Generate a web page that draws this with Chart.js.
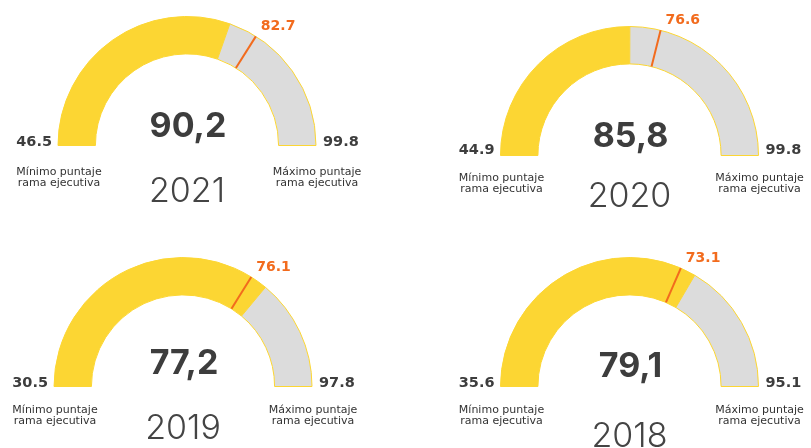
<!DOCTYPE html>
<html>
<head>
<meta charset="utf-8">
<script src="https://cdn.jsdelivr.net/npm/chart.js@4/dist/chart.umd.min.js"></script>
<style>
  html, body { margin: 0; padding: 0; background: #ffffff; }
  #wrap { position: relative; width: 811px; height: 448px; overflow: hidden; background: #fff; }
  #wrap canvas { position: absolute; }
</style>
</head>
<body>
<div id="wrap"></div>
<script>
// ---- data ----
const years = ['2021', '2020', '2019', '2018'];
const scores = [90.2, 85.8, 77.2, 79.1];          // big central number
const minScores = [46.5, 44.9, 30.5, 35.6];       // "Mínimo puntaje rama ejecutiva"
const maxScores = [99.8, 99.8, 97.8, 95.1];       // "Máximo puntaje rama ejecutiva"
const markerValues = [82.7, 76.6, 76.1, 73.1];    // orange marker
const fillValues = [78.9, 72.4, 79.0, 75.4];      // extent of the yellow fill as drawn
const minLabel = ['Mínimo puntaje', 'rama ejecutiva'];
const maxLabel = ['Máximo puntaje', 'rama ejecutiva'];

// ---- layout (panel placement, not data) ----
const panels = [
  { left: 0,   top: 0,   cx: 187,   cy: 146, numDy: -9,  yearDy: 56, descDy: 29, minDy: 0 },
  { left: 405, top: 0,   cx: 224.5, cy: 156, numDy: -9,  yearDy: 51, descDy: 25, minDy: -2 },
  { left: 0,   top: 224, cx: 183,   cy: 163, numDy: -13, yearDy: 52, descDy: 26, minDy: 0 },
  { left: 405, top: 224, cx: 224.5, cy: 163, numDy: -10, yearDy: 60, descDy: 26, minDy: 0 }
];
const W = 405, H = 224, R = 130;
const YELLOW = '#FCD633', GREY = '#DCDCDC', ORANGE = '#F26B1D', DARK = '#3D3D3D';
const FONT = 'Inter, "Open Sans", sans-serif';
const WIDE = '"DejaVu Sans", Verdana, sans-serif';

const gaugeText = {
  id: 'gaugeText',
  afterDatasetsDraw(chart, args, opts) {
    const i = opts.index;
    const arc = chart.getDatasetMeta(0).data[0];
    const x = arc.x, y = arc.y, ro = arc.outerRadius, ri = arc.innerRadius;
    const p = panels[i];
    const ctx = chart.ctx;
    ctx.save();
    // marker line
    const frac = (markerValues[i] - minScores[i]) / (maxScores[i] - minScores[i]);
    const ang = -Math.PI + frac * Math.PI;
    const ca = Math.cos(ang), sa = Math.sin(ang);
    ctx.strokeStyle = ORANGE;
    ctx.lineWidth = 2;
    ctx.beginPath();
    ctx.moveTo(x + ri * ca, y + ri * sa);
    ctx.lineTo(x + ro * ca, y + ro * sa);
    ctx.stroke();
    // marker label
    ctx.fillStyle = ORANGE;
    ctx.font = '700 14px ' + WIDE;
    ctx.textAlign = 'left';
    ctx.textBaseline = 'alphabetic';
    ctx.fillText(markerValues[i].toFixed(1), x + ro * ca + 5, y + ro * sa - 6);
    // min / max values
    ctx.fillStyle = DARK;
    ctx.font = '700 14.5px ' + WIDE;
    ctx.textAlign = 'right';
    ctx.fillText(minScores[i].toFixed(1), x - ro - 6, y + p.minDy);
    ctx.textAlign = 'left';
    ctx.fillText(maxScores[i].toFixed(1), x + ro + 7, y + p.minDy);
    // descriptions
    ctx.font = '400 11px ' + WIDE;
    ctx.textAlign = 'center';
    ctx.fillStyle = '#333333';
    minLabel.forEach((t, k) => ctx.fillText(t, x - ro + 1, y + p.descDy + k * 11));
    maxLabel.forEach((t, k) => ctx.fillText(t, x + ro + 1, y + p.descDy + k * 11));
    // big number
    ctx.fillStyle = DARK;
    ctx.font = '700 34px ' + FONT;
    ctx.fillText(scores[i].toFixed(1).replace('.', ','), x + 1, y + p.numDy);
    // year
    ctx.fillStyle = '#444444';
    ctx.font = '300 34px ' + FONT;
    ctx.fillText(years[i], x, y + p.yearDy);
    ctx.restore();
  }
};

const wrap = document.getElementById('wrap');
years.forEach((yr, i) => {
  const p = panels[i];
  const c = document.createElement('canvas');
  c.width = W; c.height = H;
  c.style.left = p.left + 'px'; c.style.top = p.top + 'px';
  c.style.width = W + 'px'; c.style.height = H + 'px';
  wrap.appendChild(c);
  new Chart(c, {
    type: 'doughnut',
    data: {
      labels: ['puntaje', 'resto'],
      datasets: [{
        data: [fillValues[i] - minScores[i], maxScores[i] - fillValues[i]],
        backgroundColor: [YELLOW, GREY],
        borderColor: [YELLOW, YELLOW],
        borderWidth: 1
      }]
    },
    options: {
      responsive: false,
      animation: false,
      devicePixelRatio: 1,
      rotation: -90,
      circumference: 180,
      cutout: '71%',
      layout: { padding: { left: p.cx - R, right: W - (p.cx + R), top: p.cy - R, bottom: H - p.cy } },
      plugins: {
        legend: { display: false },
        tooltip: { enabled: false },
        gaugeText: { index: i }
      },
      events: []
    },
    plugins: [gaugeText]
  });
});
</script>
</body>
</html>
